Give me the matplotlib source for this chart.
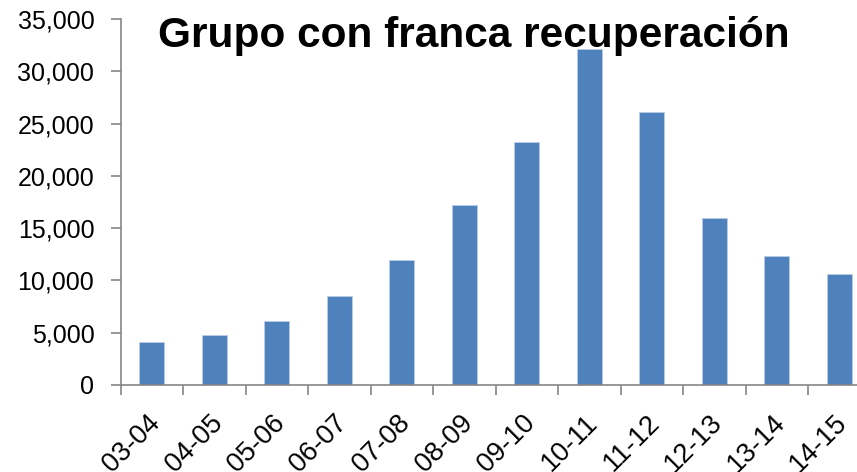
import matplotlib.pyplot as plt
import matplotlib.transforms as mtransforms
from matplotlib.ticker import FuncFormatter, FixedLocator, NullFormatter

# Datos
temporadas = ["03-04", "04-05", "05-06", "06-07", "07-08", "08-09",
              "09-10", "10-11", "11-12", "12-13", "13-14", "14-15"]
valores = [4100, 4800, 6100, 8500, 12000, 17200,
           23200, 32100, 26100, 16000, 12300, 10600]

plt.rcParams['font.family'] = ['Liberation Sans', 'DejaVu Sans']

fig = plt.figure(figsize=(8.57, 4.72), dpi=100)
ax = fig.add_axes([120.7 / 857, 87 / 472, 750 / 857, 366 / 472])

x = list(range(len(temporadas)))
ax.bar(x, valores, width=0.4, color="#4F81BD", edgecolor="#B9CDE5", linewidth=0.6)

ax.set_xlim(-0.5, len(temporadas) - 0.5)
ax.set_ylim(0, 35000)
ax.set_yticks(range(0, 35001, 5000))
ax.yaxis.set_major_formatter(FuncFormatter(lambda v, p: f"{int(v):,}"))

# marcas entre categorias
ax.xaxis.set_major_locator(FixedLocator([i - 0.5 for i in range(len(temporadas) + 1)]))
ax.xaxis.set_major_formatter(NullFormatter())
ax.tick_params(axis="x", which="major", length=7, color="#868686", width=1.2)
ax.tick_params(axis="y", length=7, color="#868686", width=1.2, labelsize=18, pad=12)

# etiquetas de categoria giradas
trans = mtransforms.blended_transform_factory(ax.transData, ax.transAxes)
trans = trans + mtransforms.ScaledTranslation(4 / 100, -34 / 100, fig.dpi_scale_trans)
for i, t in enumerate(temporadas):
    ax.text(i, 0, t, transform=trans, rotation=45, rotation_mode="anchor",
            ha="right", va="center", fontsize=19.5, clip_on=False)

for s in ["top", "right"]:
    ax.spines[s].set_visible(False)
for s in ["left", "bottom"]:
    ax.spines[s].set_color("#868686")
    ax.spines[s].set_linewidth(1.2)

fig.text(474 / 857, 1 - 36 / 472, "Grupo con franca recuperación",
         ha="center", va="center", fontsize=30.5, fontweight="bold")

fig.savefig("out.png", dpi=100)
